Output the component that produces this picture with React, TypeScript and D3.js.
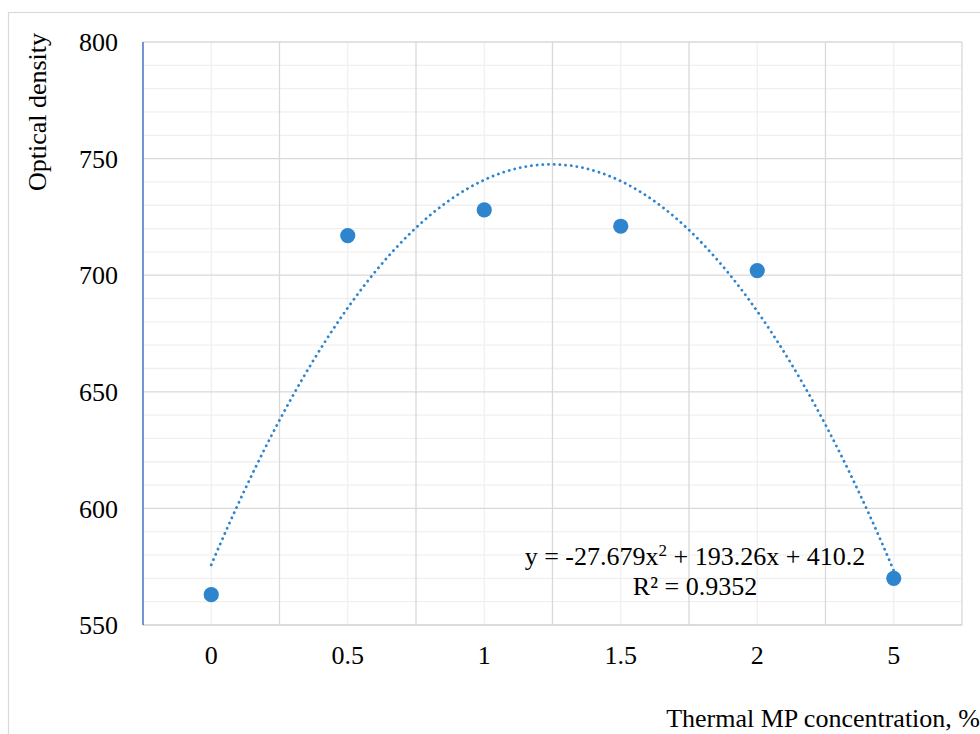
import React from "react";
import * as d3 from "d3";

const categories = ["0", "0.5", "1", "1.5", "2", "5"];
const opticalDensity = [563, 717, 728, 721, 702, 570];
const yTicks = [550, 600, 650, 700, 750, 800];
const trendCoeffs = [-27.679, 193.26, 410.2];
const r2Label = "R\u00b2 = 0.9352";

const W = 980;
const H = 734;
const plot = { left: 143, right: 962, top: 42, bottom: 625 };
const font = "'Liberation Serif', 'Times New Roman', serif";
const fs = 26;
const blue = "#2E85CD";

export default function App() {
  const x = d3
    .scaleBand<string>()
    .domain(categories)
    .range([plot.left, plot.right])
    .paddingInner(0)
    .paddingOuter(0);
  const cx = (c: string) => (x(c) as number) + x.bandwidth() / 2;
  // trendline is in index units (1..n), like Excel does for a line chart
  const xi = d3.scaleLinear().domain([0.5, categories.length + 0.5]).range([plot.left, plot.right]);
  const y = d3.scaleLinear().domain([550, 800]).range([plot.bottom, plot.top]);

  const minorY = d3.range(550, 801, 10).filter((v) => v % 50 !== 0);
  const majorY = yTicks;
  const boundaries = categories.slice(1).map((c) => x(c) as number);

  const [a, b, c0] = trendCoeffs;
  const trendPts = d3.range(1, categories.length + 0.001, 0.02).map((t) => [t, a * t * t + b * t + c0]);
  const trendPath = d3
    .line<number[]>()
    .x((d) => xi(d[0]))
    .y((d) => y(d[1]))(trendPts);

  return (
    <svg
      width={W}
      height={H}
      style={{ position: "absolute", left: 0, top: 0, background: "#fff" }}
      fontFamily={font}
    >
      <rect x={8.5} y={12.5} width={W + 10} height={H + 10} fill="#fff" stroke="#d9d9d9" strokeWidth={1.2} />

      {/* minor grid */}
      {minorY.map((v) => (
        <line key={"my" + v} x1={plot.left} x2={plot.right} y1={y(v)} y2={y(v)} stroke="#f0f0f0" strokeWidth={1.3} />
      ))}
      {categories.map((c) => (
        <line key={"mx" + c} x1={cx(c)} x2={cx(c)} y1={plot.top} y2={plot.bottom} stroke="#f0f0f0" strokeWidth={1.3} />
      ))}
      {/* major grid */}
      {majorY.map((v) => (
        <line key={"Y" + v} x1={plot.left} x2={plot.right} y1={y(v)} y2={y(v)} stroke="#d9d9d9" strokeWidth={1.3} />
      ))}
      {boundaries.map((bx, i) => (
        <line key={"X" + i} x1={bx} x2={bx} y1={plot.top} y2={plot.bottom} stroke="#d9d9d9" strokeWidth={1.3} />
      ))}
      <line x1={plot.right} x2={plot.right} y1={plot.top} y2={plot.bottom} stroke="#d9d9d9" strokeWidth={1.3} />
      <line x1={plot.left} x2={plot.right} y1={plot.bottom} y2={plot.bottom} stroke="#d9d9d9" strokeWidth={1.5} />
      <line x1={plot.left} x2={plot.left} y1={plot.top} y2={plot.bottom} stroke="#4472C4" strokeWidth={1.5} />

      {/* y tick labels */}
      {yTicks.map((v) => (
        <text key={"t" + v} x={118} y={y(v)} dy="0.35em" textAnchor="end" fontSize={fs} fill="#000">
          {v}
        </text>
      ))}
      {/* x tick labels */}
      {categories.map((c) => (
        <text key={"c" + c} x={cx(c)} y={664} textAnchor="middle" fontSize={fs} fill="#000">
          {c}
        </text>
      ))}

      {/* trendline */}
      <path
        d={trendPath || ""}
        fill="none"
        stroke={blue}
        strokeWidth={2.8}
        strokeDasharray="0.1 5.6"
        strokeLinecap="round"
      />

      {/* markers */}
      {categories.map((c, i) => (
        <circle key={"p" + c} cx={cx(c)} cy={y(opticalDensity[i])} r={7.6} fill={blue} />
      ))}

      {/* trend labels */}
      <text x={695} y={565} textAnchor="middle" fontSize={fs} fill="#000">
        <tspan>y = {a}x</tspan>
        <tspan fontSize={17} dy={-9}>2</tspan>
        <tspan dy={9}> + {b}x + {c0}</tspan>
      </text>
      <text x={695} y={595} textAnchor="middle" fontSize={fs} fill="#000">
        {r2Label}
      </text>

      {/* axis titles */}
      <text transform={`translate(46,112) rotate(-90)`} textAnchor="middle" fontSize={fs} fill="#000">
        Optical density
      </text>
      <text x={980} y={727} textAnchor="end" fontSize={fs} fill="#000">
        Thermal MP concentration, %
      </text>
    </svg>
  );
}
